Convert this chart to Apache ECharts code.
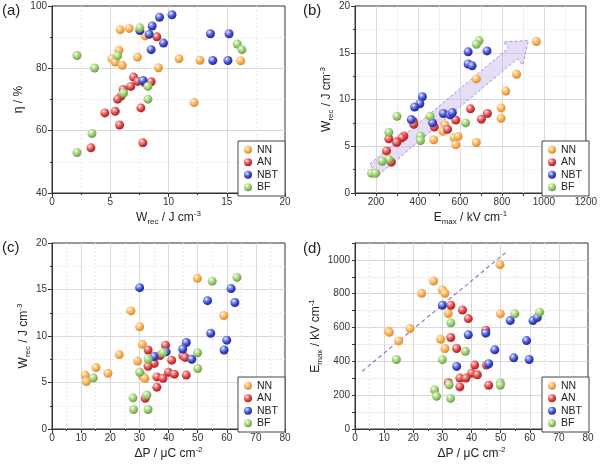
<!DOCTYPE html>
<html>
<head>
<meta charset="utf-8">
<script src="https://cdn.jsdelivr.net/npm/echarts@6/dist/echarts.min.js"></script>
<style>html,body{margin:0;padding:0;background:#fff}#c{width:600px;height:464px}</style>
</head>
<body>
<div id="c"></div>
<script>
// ---------- DATA ----------
const seriesNames = ['NN', 'AN', 'NBT', 'BF'];

// (a) W_rec (J cm-3) vs efficiency (%)
const a_NN  = [[5.85,92.4],[6.63,92.8],[5.74,85.8],[5.14,83.1],[5.43,82.0],[6.03,81.0],[7.34,83.6],[8.0,90.4],[9.14,80.2],[10.9,83.1],[12.7,82.6],[16.2,82.4],[12.2,69.0]];
const a_AN  = [[9.0,90.1],[7.0,77.2],[7.37,75.8],[7.94,75.4],[8.51,75.7],[6.77,74.2],[6.11,73.2],[5.91,71.0],[5.63,70.1],[5.43,66.2],[4.54,65.7],[7.63,67.3],[5.8,61.8],[3.34,54.5],[7.8,56.1]];
const a_NBT = [[10.3,97.2],[9.23,96.4],[8.6,93.6],[7.54,92.1],[8.34,90.9],[9.57,88.1],[8.51,86.0],[13.6,91.1],[15.2,91.1],[13.8,82.5],[15.1,82.5],[7.8,76.1]];
const a_BF  = [[7.54,93.0],[5.63,84.0],[2.14,84.1],[3.65,80.1],[15.9,87.8],[16.3,86.0],[8.23,74.2],[6.14,72.1],[8.23,70.1],[3.43,59.1],[2.14,53.0]];

// (b) E_max (kV cm-1) vs W_rec (J cm-3)
const b_NN  = [[964,16.2],[870,12.7],[678,12.2],[818,10.9],[796,9.1],[796,8.0],[528,7.3],[519,6.6],[475,5.7],[572,5.9],[591,6.05],[580,5.15],[678,5.4]];
const b_AN  = [[650,9.0],[731,8.5],[702,7.9],[580,7.8],[478,7.05],[541,6.8],[378,7.65],[380,7.35],[333,6.1],[323,5.9],[301,5.5],[298,5.4],[261,5.8],[250,4.5],[273,3.3]];
const b_NBT = [[729,15.2],[639,15.1],[639,13.8],[658,13.6],[421,10.3],[409,9.55],[384,9.2],[368,7.85],[470,7.5],[521,8.5],[553,8.35],[564,8.6]];
const b_BF  = [[691,16.3],[678,15.9],[300,8.2],[458,8.2],[627,7.5],[412,6.1],[412,5.6],[261,6.5],[261,3.6],[229,3.4],[179,2.1],[198,2.1]];
const b_arrow = [191, 2.5, 926, 16.3]; // tail x, tail y, tip x, tip y

// (c) dP (uC cm-2) vs W_rec (J cm-3)
const c_NN  = [[30.1,11.0],[31.0,9.1],[29.4,7.3],[31.0,5.7],[31.9,5.45],[11.4,5.8],[11.8,5.1],[15.1,6.6],[19.2,6.0],[23.1,8.0],[27.1,12.7],[49.9,16.2],[59.0,12.2]];
const c_AN  = [[39.0,9.0],[44.9,7.9],[45.7,7.7],[33.0,8.5],[37.1,7.9],[41.1,7.4],[35.1,7.05],[33.0,6.75],[40.0,6.1],[42.0,5.9],[46.1,5.8],[36.0,5.6],[38.1,5.45],[36.0,4.5],[32.0,3.3]];
const c_NBT = [[30.1,15.2],[53.4,13.8],[61.5,15.1],[62.8,13.6],[54.5,10.3],[60.0,9.55],[59.1,8.5],[46.1,9.3],[44.9,8.6],[48.0,7.5],[35.1,7.8],[39.2,8.3]];
const c_BF  = [[50.0,8.2],[50.0,6.5],[38.1,8.2],[33.0,7.5],[30.1,6.1],[32.6,3.65],[27.8,3.35],[28.0,2.1],[33.0,2.1],[14.2,5.5],[55.0,15.9],[63.5,16.3]];

// (d) dP (uC cm-2) vs E_max (kV cm-1)
const d_NN  = [[27.0,875],[30.0,822],[30.9,803],[22.9,803],[32.0,683],[18.9,594],[11.4,580],[11.8,572],[15.0,521],[49.8,972],[49.9,681],[29.4,531],[30.9,476]];
const d_AN  = [[32.9,732],[36.9,704],[38.9,653],[44.9,584],[32.9,541],[34.9,476],[41.1,378],[45.1,378],[40.0,330],[42.0,321],[36.0,301],[38.1,301],[32.0,275],[36.0,249],[45.9,259]];
const d_NBT = [[30.0,732],[53.3,641],[44.9,567],[38.9,557],[58.9,523],[48.0,468],[54.5,421],[59.8,411],[34.9,370],[45.9,386],[61.1,641],[62.6,659]];
const d_BF  = [[32.9,628],[54.9,681],[63.4,691],[37.9,460],[30.0,410],[14.2,411],[32.3,262],[49.9,274],[49.9,259],[27.3,232],[28.0,194],[32.8,181]];
const d_trend = [[2.5,342],[51.7,1043]];

// ---------- STYLE ----------
const FONT = 'Liberation Sans, Arial, sans-serif';
const palette = {
  NN:  ['#f7a94b', '#fcd9a8', '#d8862a'],
  AN:  ['#dc3b3b', '#f2a2a2', '#a32020'],
  NBT: ['#3a46cc', '#a0a8f0', '#20288c'],
  BF:  ['#93c868', '#d2eabb', '#679a42']
};
function ball(name) {
  const p = palette[name];
  return {type: 'radial', x: 0.36, y: 0.32, r: 0.72, colorStops: [
    {offset: 0, color: '#ffffff'}, {offset: 0.2, color: p[1]},
    {offset: 0.62, color: p[0]}, {offset: 1, color: p[2]}]};
}
const rich = {
  sub: {fontSize: 8, lineHeight: 8, verticalAlign: 'bottom', fontFamily: FONT, color: '#222'},
  sup: {fontSize: 8, lineHeight: 8, verticalAlign: 'top', fontFamily: FONT, color: '#222'}
};
const MAJ = '#d9d9d9', MIN = '#ededed';
function axis(o) {
  const base = {
    type: 'value', gridIndex: o.grid, min: o.min, max: o.max, interval: o.interval,
    name: o.name, nameLocation: 'middle', nameGap: o.nameGap,
    nameTextStyle: {fontSize: 12, color: '#222', fontFamily: FONT, lineHeight: 16, rich: rich},
    axisLine: {show: true, onZero: false, lineStyle: {color: '#333', width: 1}},
    axisTick: {show: true, length: 4, lineStyle: {color: '#333'}},
    axisLabel: {show: true, fontSize: 10, color: '#333', fontFamily: FONT, margin: o.margin || 4,
      showMinLabel: true, showMaxLabel: true},
    splitLine: {show: true, showMinLine: false, showMaxLine: false, lineStyle: {color: MAJ, width: 1}},
    minorTick: {show: true, splitNumber: 2, length: 2, lineStyle: {color: '#333'}},
    minorSplitLine: {show: true, lineStyle: {color: '#eaeaea', type: [2, 2]}}
  };
  if (o.half) {
    // ticks every half-major step; labels only on majors
    base.minorTick = {show: false};
    base.minorSplitLine = {show: false};
    base.axisTick.length = 3;
    base.splitLine.lineStyle.color = o.lineColors;
    base.axisLabel.formatter = function (v) { return (v % o.major === 0 && v <= o.labelMax) ? String(v) : ''; };
  }
  return base;
}

const grids = [
  {left: 52, top: 6, width: 233, height: 187},
  {left: 355, top: 6, width: 233, height: 187},
  {left: 52, top: 243, width: 233, height: 186},
  {left: 355, top: 243, width: 233, height: 186}
].map(g => Object.assign({show: true, borderColor: '#333', borderWidth: 1, backgroundColor: '#fff'}, g));

const xAxes = [
  axis({grid: 0, min: 0, max: 20, interval: 5, name: 'W{sub|rec} / J cm{sup|-3}', nameGap: 17}),
  axis({grid: 1, min: 100, max: 1200, interval: 100, half: true, major: 200, labelMax: 1200,
        lineColors: [MAJ, MIN], name: 'E{sub|max} / kV cm{sup|-1}', nameGap: 17}),
  axis({grid: 2, min: 0, max: 80, interval: 10, name: 'ΔP / μC cm{sup|-2}', nameGap: 17}),
  axis({grid: 3, min: 0, max: 80, interval: 10, name: 'ΔP / μC cm{sup|-2}', nameGap: 17})
];
const yAxes = [
  axis({grid: 0, min: 40, max: 100, interval: 20, name: 'η / %', nameGap: 20, margin: 5}),
  axis({grid: 1, min: 0, max: 20, interval: 5, name: 'W{sub|rec} / J cm{sup|-3}', nameGap: 19, margin: 5}),
  axis({grid: 2, min: 0, max: 20, interval: 5, name: 'W{sub|rec} / J cm{sup|-3}', nameGap: 19, margin: 5}),
  axis({grid: 3, min: 0, max: 1100, interval: 100, half: true, major: 200, labelMax: 1000,
        lineColors: [MIN, MAJ], name: 'E{sub|max} / kV cm{sup|-1}', nameGap: 31, margin: 5})
];

const panelData = [
  {NN: a_NN, AN: a_AN, NBT: a_NBT, BF: a_BF},
  {NN: b_NN, AN: b_AN, NBT: b_NBT, BF: b_BF},
  {NN: c_NN, AN: c_AN, NBT: c_NBT, BF: c_BF},
  {NN: d_NN, AN: d_AN, NBT: d_NBT, BF: d_BF}
];

const series = [];
// arrow annotation in (b)
series.push({
  type: 'custom', xAxisIndex: 1, yAxisIndex: 1, data: [b_arrow], z: 1, silent: true,
  renderItem: function (params, api) {
    const p0 = api.coord([api.value(0), api.value(1)]);
    const p1 = api.coord([api.value(2), api.value(3)]);
    const dx = p1[0] - p0[0], dy = p1[1] - p0[1];
    const L = Math.sqrt(dx * dx + dy * dy);
    const ux = dx / L, uy = dy / L, nx = -uy, ny = ux;
    const headLen = 20, sw = 7, hw = 15;
    const bx = p1[0] - ux * headLen, by = p1[1] - uy * headLen;
    const pts = [
      [p0[0] + nx * sw, p0[1] + ny * sw], [bx + nx * sw, by + ny * sw], [bx + nx * hw, by + ny * hw],
      [p1[0], p1[1]],
      [bx - nx * hw, by - ny * hw], [bx - nx * sw, by - ny * sw], [p0[0] - nx * sw, p0[1] - ny * sw]
    ];
    return {type: 'polygon', shape: {points: pts},
      style: {fill: 'rgba(196,176,236,0.42)', stroke: 'rgba(160,128,215,0.85)', lineWidth: 1, lineDash: [3, 2]}};
  }
});
// dashed trend line in (d)
series.push({
  type: 'line', xAxisIndex: 3, yAxisIndex: 3, data: d_trend, symbol: 'none', silent: true, z: 2,
  lineStyle: {type: [4, 3], color: '#a070c8', width: 1.2}
});
panelData.forEach((pd, gi) => {
  seriesNames.forEach(n => {
    series.push({
      name: n, type: 'scatter', xAxisIndex: gi, yAxisIndex: gi, data: pd[n],
      symbol: 'circle', symbolSize: 9, z: 3,
      itemStyle: {color: ball(n), opacity: 1},
      emphasis: {disabled: true}
    });
  });
});

const legendPos = [[238, 141], [542, 141], [238, 377], [542, 377]];
const legends = legendPos.map(p => ({
  orient: 'vertical', left: p[0], top: p[1], data: seriesNames, selectedMode: false,
  icon: 'circle', itemWidth: 8, itemHeight: 8, itemGap: 1, padding: [3, 7, 3, 6],
  borderColor: '#444', borderWidth: 1, backgroundColor: '#fff',
  textStyle: {fontSize: 10.5, color: '#222', fontFamily: FONT, lineHeight: 11.5}
}));

const labels = [['(a)', 2, 3], ['(b)', 303, 3], ['(c)', 2, 240], ['(d)', 303, 241]].map(l => ({
  type: 'text', left: l[1], top: l[2],
  style: {text: l[0], fontSize: 15, fill: '#222', fontFamily: FONT}
}));

const chart = echarts.init(document.getElementById('c'), null, {renderer: 'canvas'});
chart.setOption({
  animation: false,
  backgroundColor: '#fff',
  grid: grids,
  xAxis: xAxes,
  yAxis: yAxes,
  legend: legends,
  graphic: labels,
  series: series
});
</script>
</body>
</html>
